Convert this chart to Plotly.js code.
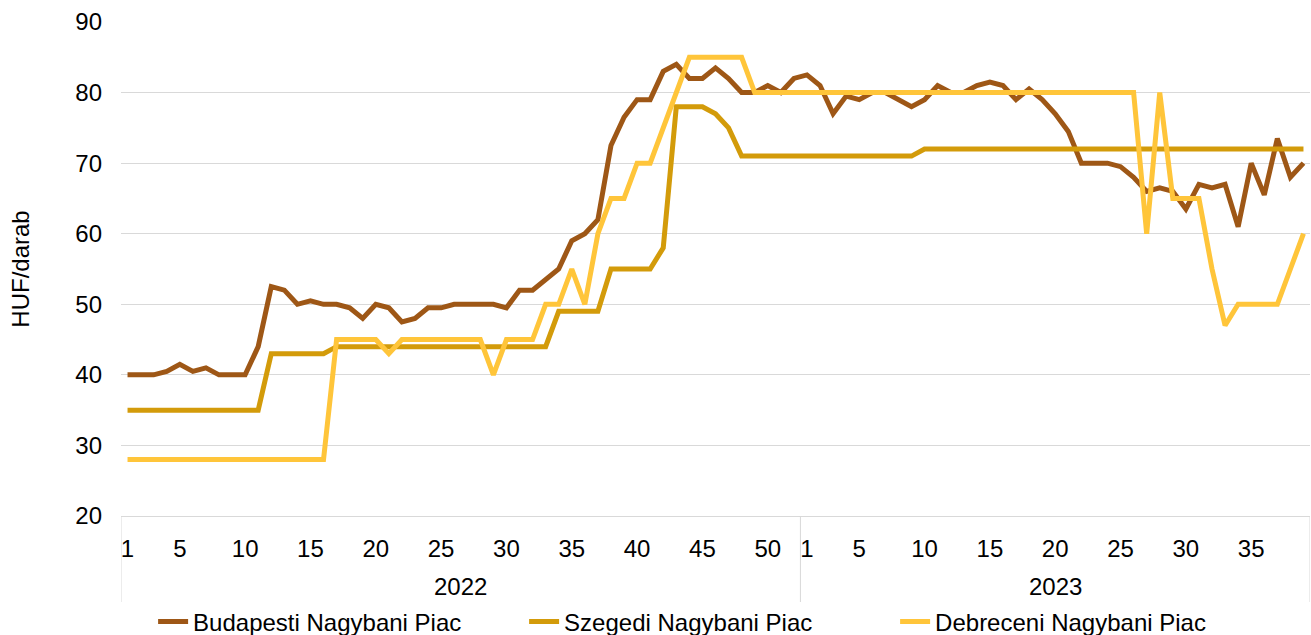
<!DOCTYPE html>
<html>
<head>
<meta charset="utf-8">
<script src="https://cdn.plot.ly/plotly-3.0.1.min.js"></script>
<style>html,body{margin:0;padding:0;background:#fff;}#chart{width:1311px;height:635px;}</style>
</head>
<body>
<div id="chart"></div>
<script>
// Week labels: 2022 weeks 1-52, 2023 weeks 1-39
const years = ["2022", "2023"];
const weeksPerYear = [52, 39];

const budapest = [
  40, 40, 40, 40.5, 41.5, 40.5, 41, 40, 40, 40, 44, 52.5, 52, 50, 50.5, 50, 50, 49.5, 48, 50,
  49.5, 47.5, 48, 49.5, 49.5, 50, 50, 50, 50, 49.5, 52, 52, 53.5, 55, 59, 60, 62, 72.5, 76.5, 79,
  79, 83, 84, 82, 82, 83.5, 82, 80, 80, 81, 80, 82,
  82.5, 81, 77, 79.5, 79, 80, 80, 79, 78, 79, 81, 80, 80, 81, 81.5, 81, 79, 80.5, 79, 77,
  74.5, 70, 70, 70, 69.5, 68, 66, 66.5, 66, 63.5, 67, 66.5, 67, 61, 70, 65.5, 73.5, 68, 70
];
const szeged = [
  35, 35, 35, 35, 35, 35, 35, 35, 35, 35, 35, 43, 43, 43, 43, 43, 44, 44, 44, 44,
  44, 44, 44, 44, 44, 44, 44, 44, 44, 44, 44, 44, 44, 49, 49, 49, 49, 55, 55, 55,
  55, 58, 78, 78, 78, 77, 75, 71, 71, 71, 71, 71,
  71, 71, 71, 71, 71, 71, 71, 71, 71, 72, 72, 72, 72, 72, 72, 72, 72, 72, 72, 72,
  72, 72, 72, 72, 72, 72, 72, 72, 72, 72, 72, 72, 72, 72, 72, 72, 72, 72, 72
];
const debrecen = [
  28, 28, 28, 28, 28, 28, 28, 28, 28, 28, 28, 28, 28, 28, 28, 28, 45, 45, 45, 45,
  43, 45, 45, 45, 45, 45, 45, 45, 40, 45, 45, 45, 50, 50, 55, 50, 60, 65, 65, 70,
  70, 75, 80, 85, 85, 85, 85, 85, 80, 80, 80, 80,
  80, 80, 80, 80, 80, 80, 80, 80, 80, 80, 80, 80, 80, 80, 80, 80, 80, 80, 80, 80,
  80, 80, 80, 80, 80, 80, 60, 80, 65, 65, 65, 55, 47, 50, 50, 50, 50, 55, 60
];
const seriesNames = ["Budapesti Nagybani Piac", "Szegedi Nagybani Piac", "Debreceni Nagybani Piac"];
const seriesColors = ["#9E5716", "#D39B0A", "#FFC53A"];
const yTitle = "HUF/darab";

// category index positions
const xIdx = [];
const weekLabel = [];
weeksPerYear.forEach((n) => { for (let w = 1; w <= n; w++) { xIdx.push(xIdx.length); weekLabel.push(w); } });
const tickVals = [], tickText = [];
xIdx.forEach((i) => { const w = weekLabel[i]; if (w === 1 || w % 5 === 0) { tickVals.push(i); tickText.push(String(w)); } });

const font = "Arial, 'Liberation Sans', sans-serif";
const FS = 24;
const data = [budapest, szeged, debrecen].map((ys, k) => ({
  type: "scatter", mode: "lines", x: xIdx, y: ys, name: seriesNames[k],
  line: {color: seriesColors[k], width: 5}, hoverinfo: "x+y"
}));

const plotH = 635 - 22 - 119;
const bounds = [-0.5];
let acc = -0.5;
weeksPerYear.forEach(n => { acc += n; bounds.push(acc); });
const shapes = bounds.map(b => ({type: "line", xref: "x", yref: "paper", x0: b, x1: b, y0: 0, y1: -(602 - 516) / plotH, line: {color: "#D9D9D9", width: 1}}));
const annotations = years.map((yr, k) => ({
  xref: "x", yref: "paper", x: (bounds[k] + bounds[k + 1]) / 2, y: -(586 - 516) / plotH,
  text: yr, showarrow: false, yanchor: "middle", xanchor: "center", font: {family: font, size: FS, color: "#000"}
}));

const layout = {
  width: 1311, height: 635,
  margin: {l: 121, r: 1, t: 22, b: 119, autoexpand: false},
  paper_bgcolor: "#fff", plot_bgcolor: "#fff",
  showlegend: true,
  legend: {orientation: "h", x: 0.027, xanchor: "left", y: -(622 - 516) / plotH, yanchor: "middle",
    font: {family: font, size: FS, color: "#000"}, entrywidth: 326, entrywidthmode: "pixels", traceorder: "normal", bgcolor: "rgba(0,0,0,0)"},
  xaxis: {range: [-0.5, bounds[bounds.length - 1]], tickvals: tickVals, ticktext: tickText, tickangle: 0,
    showgrid: false, zeroline: false, showline: true, linecolor: "#D9D9D9", linewidth: 1, ticks: "",
    ticklabelstandoff: 11, tickfont: {family: font, size: FS, color: "#000"}, fixedrange: true},
  yaxis: {range: [20, 90], dtick: 10, showgrid: true, gridcolor: "#D9D9D9", gridwidth: 1, zeroline: false,
    showline: false, ticks: "", ticklabelstandoff: 18, tickfont: {family: font, size: FS, color: "#000"},
    title: {text: yTitle, font: {family: font, size: FS, color: "#000"}, standoff: 38}, fixedrange: true},
  shapes: shapes, annotations: annotations,
  font: {family: font, color: "#000"}
};
Plotly.newPlot("chart", data, layout, {displayModeBar: false, staticPlot: true});
</script>
</body>
</html>
